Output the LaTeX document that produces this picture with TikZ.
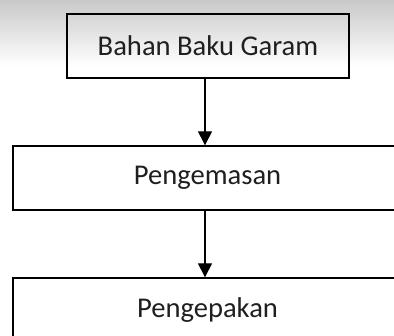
\documentclass[tikz,border=0pt]{standalone}
\usepackage{fontspec}
\setmainfont{Carlito}
\usetikzlibrary{arrows.meta}
\tikzset{
  stagebox/.style={draw=black, line width=1.4pt, inner sep=0pt,
    minimum height=64pt, font=\fontsize{28.6}{30}\selectfont, text=black!88},
  flow/.style={line width=1.4pt, -{Triangle[width=14pt,length=14pt]}}
}
\begin{document}
\begin{tikzpicture}[x=1pt,y=-1pt]
  \useasboundingbox (0,0) rectangle (394,336);
  \clip (0,0) rectangle (394,336);
  % faint grey haze along the top edge
  \shade[top color=black!22, middle color=black!14, bottom color=white] (0,-2) rectangle (394,66);
  % process stages
  \node[stagebox, minimum width=282pt] (raw) at (208,46) {Bahan Baku Garam};
  \node[stagebox, minimum width=389pt] (pack) at (207.5,178) {Pengemasan};
  \node[stagebox, minimum width=389pt] (box) at (207.5,310) {Pengepakan};
  % flow between stages
  \draw[flow] ([xshift=-3pt]raw.south) -- ([xshift=-2.5pt]pack.north);
  \draw[flow] ([xshift=-2.5pt]pack.south) -- ([xshift=-2.5pt]box.north);
\end{tikzpicture}
\end{document}
